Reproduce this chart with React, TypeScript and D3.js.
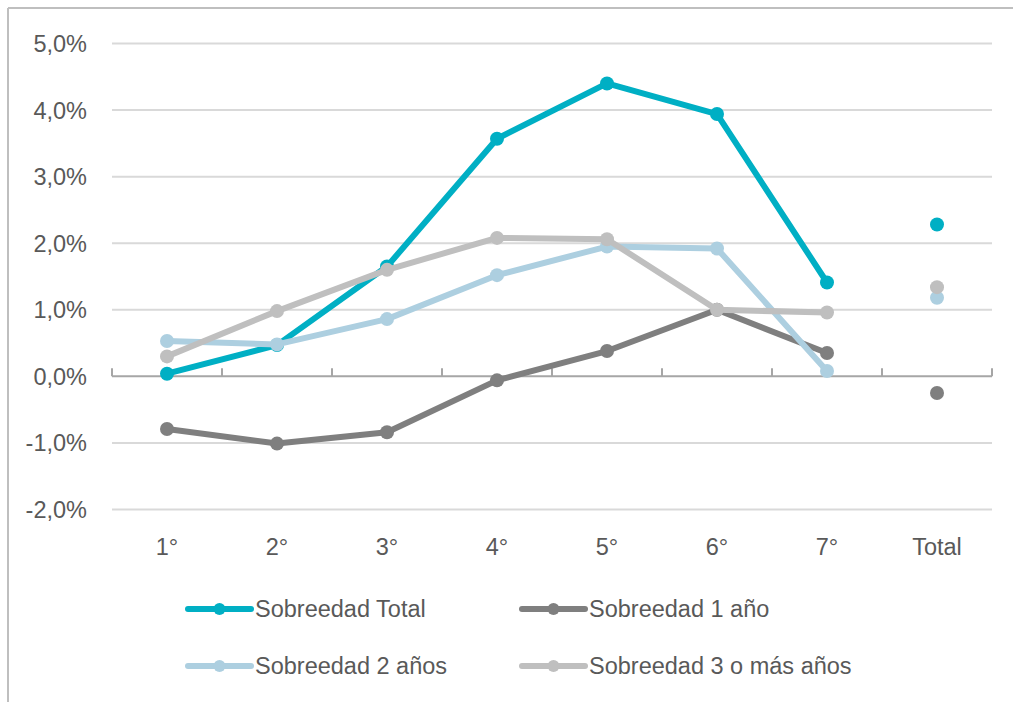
import React from "react";
import * as d3 from "d3";

const categories = ["1°", "2°", "3°", "4°", "5°", "6°", "7°", "Total"];
const seriesNames = ["Sobreedad Total", "Sobreedad 1 año", "Sobreedad 2 años", "Sobreedad 3 o más años"];
const sobreedadTotal = [0.04, 0.47, 1.65, 3.57, 4.40, 3.94, 1.41, 2.28];
const sobreedad1 = [-0.79, -1.01, -0.84, -0.06, 0.38, 1.0, 0.35, -0.25];
const sobreedad2 = [0.53, 0.48, 0.86, 1.52, 1.95, 1.92, 0.08, 1.18];
const sobreedad3 = [0.30, 0.98, 1.60, 2.08, 2.06, 1.0, 0.96, 1.34];
const yTicks = [5, 4, 3, 2, 1, 0, -1, -2];
const colors = ["#00AFC4", "#7F7F7F", "#ADCFE0", "#BFBFBF"];

const FONT = "'Liberation Sans', Arial, sans-serif";

export default function App() {
  const W = 1013;
  const H = 702;
  const left = 112;
  const right = 992;
  const x = d3.scaleBand<string>().domain(categories).range([left, right]);
  const y = d3.scaleLinear().domain([-2, 5]).range([509.5, 43.5]);
  const allSeries = [sobreedadTotal, sobreedad1, sobreedad2, sobreedad3];
  const cx = (c: string) => (x(c) as number) + x.bandwidth() / 2;
  const line = d3
    .line<number>()
    .x((_, i) => cx(categories[i]))
    .y((d) => y(d));
  const fmt = (v: number) => v.toFixed(1).replace(".", ",") + "%";
  const boundaries = categories.map((c) => x(c) as number).concat([right]);

  const legendItems = [
    { x: 188, y: 609 },
    { x: 522, y: 609 },
    { x: 188, y: 666 },
    { x: 522, y: 666 },
  ];

  return (
    <svg
      width={W}
      height={H}
      style={{ position: "absolute", left: 0, top: 0, display: "block", background: "#fff" }}
    >
      <rect x={0} y={0} width={W} height={H} fill="#fff" />
      <line x1={8} y1={8} x2={W} y2={8} stroke="#BFBFBF" strokeWidth={2} />
      <line x1={8} y1={8} x2={8} y2={H} stroke="#BFBFBF" strokeWidth={2} />

      {yTicks.map((t) => (
        <g key={t}>
          {t !== 0 && (
            <line x1={left} x2={right} y1={y(t)} y2={y(t)} stroke="#D9D9D9" strokeWidth={2} />
          )}
          <text
            x={87}
            y={y(t)}
            dy="0.36em"
            textAnchor="end"
            fontFamily={FONT}
            fontSize={23.5}
            fill="#595959"
          >
            {fmt(t)}
          </text>
        </g>
      ))}

      <line x1={left} x2={right} y1={y(0)} y2={y(0)} stroke="#A6A6A6" strokeWidth={2} />
      {boundaries.map((b, i) => (
        <line key={i} x1={b} x2={b} y1={y(0)} y2={y(0) - 8} stroke="#A6A6A6" strokeWidth={2} />
      ))}

      {categories.map((c) => (
        <text
          key={c}
          x={cx(c)}
          y={547}
          dy="0.36em"
          textAnchor="middle"
          fontFamily={FONT}
          fontSize={23.5}
          fill="#595959"
        >
          {c}
        </text>
      ))}

      {allSeries.map((s, si) => (
        <g key={si}>
          <path
            d={line(s.slice(0, 7)) || ""}
            fill="none"
            stroke={colors[si]}
            strokeWidth={6}
            strokeLinejoin="round"
            strokeLinecap="round"
          />
          {s.map((v, i) => (
            <circle key={i} cx={cx(categories[i])} cy={y(v)} r={7} fill={colors[si]} />
          ))}
        </g>
      ))}

      {seriesNames.map((n, i) => (
        <g key={n}>
          <line
            x1={legendItems[i].x}
            x2={legendItems[i].x + 63}
            y1={legendItems[i].y}
            y2={legendItems[i].y}
            stroke={colors[i]}
            strokeWidth={6}
            strokeLinecap="round"
          />
          <circle cx={legendItems[i].x + 31.5} cy={legendItems[i].y} r={6} fill={colors[i]} />
          <text
            x={legendItems[i].x + 67}
            y={legendItems[i].y}
            dy="0.36em"
            fontFamily={FONT}
            fontSize={23.5}
            fill="#595959"
          >
            {n}
          </text>
        </g>
      ))}
    </svg>
  );
}
